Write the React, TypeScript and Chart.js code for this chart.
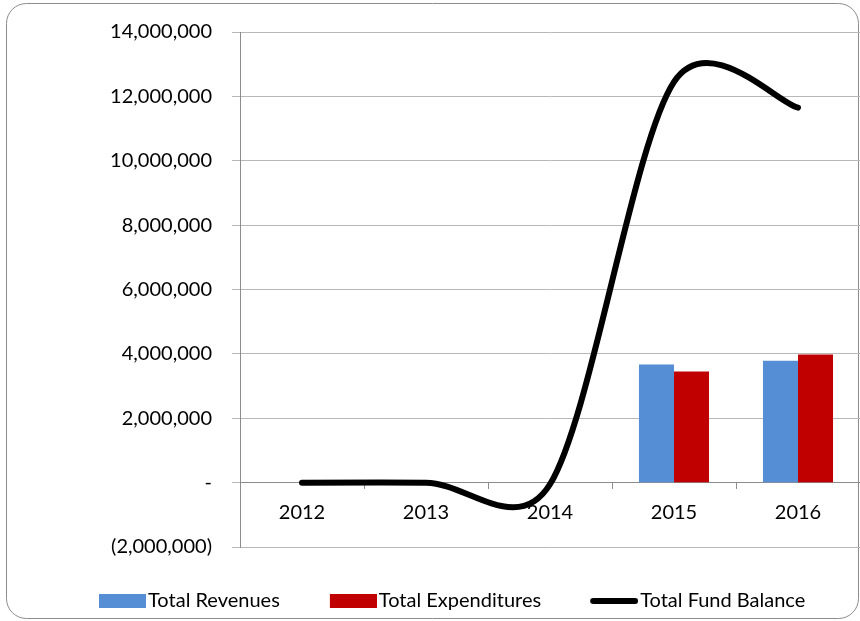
import React, { useEffect, useRef } from 'react';
import { Chart, registerables } from 'chart.js';

Chart.register(...registerables);

const years = ['2012', '2013', '2014', '2015', '2016'];
const totalRevenues = [null, null, null, 3670000, 3790000];
const totalExpenditures = [null, null, null, 3450000, 3980000];
const totalFundBalance = [0, 0, -50000, 12450000, 11650000];
const seriesLabels = ['Total Revenues', 'Total Expenditures', 'Total Fund Balance'];
const seriesColors = ['#558ED5', '#C00000', '#000000'];
const yMin = -2000000;
const yMax = 14000000;
const yStep = 2000000;

const FONT = 'Lato';
const FONT_SIZE = 20;
const LEG_PAD = 44;
const LEG_B = 45; // legend box slot width
const LEG_SWATCH = 47;

function fmt(v: number): string {
  if (v === 0) return '-';
  const s = String(Math.abs(v)).replace(/\B(?=(\d{3})+(?!\d))/g, ',');
  return v < 0 ? `(${s})` : s;
}

// Excel-like smoothing of the line: Catmull-Rom (1/6) with arm length capped at half the segment
const excelSmoothPlugin = {
  id: 'excelSmooth',
  beforeDatasetDraw(chart: any, args: any) {
    const meta = args.meta;
    if (meta.type !== 'line') return;
    meta.dataset.updateControlPoints(chart.chartArea, 'x');
    const pts = meta.data;
    const f = 1 / 6;
    for (let i = 0; i < pts.length; i++) {
      const p = pts[i];
      const prev = pts[i - 1] || p;
      const next = pts[i + 1] || p;
      const dx = next.x - prev.x;
      const dy = next.y - prev.y;
      const d02 = Math.hypot(dx, dy);
      const d01 = Math.hypot(p.x - prev.x, p.y - prev.y);
      const d12 = Math.hypot(next.x - p.x, next.y - p.y);
      let f1 = f;
      let f2 = f;
      if (d02 > 0) {
        if (f * d02 > d01 / 2) f1 = d01 / (2 * d02);
        if (f * d02 > d12 / 2) f2 = d12 / (2 * d02);
      }
      p.cp1x = p.x - f1 * dx;
      p.cp1y = p.y - f1 * dy;
      p.cp2x = p.x + f2 * dx;
      p.cp2y = p.y + f2 * dy;
    }
  },
};

const framePlugin = {
  id: 'frame',
  beforeDraw(chart: any) {
    const ctx = chart.ctx;
    ctx.save();
    ctx.fillStyle = '#ffffff';
    ctx.fillRect(0, 0, chart.width, chart.height);
    ctx.beginPath();
    ctx.roundRect(6.5, 3.5, 852, 615, 20);
    ctx.strokeStyle = '#8c8c8c';
    ctx.lineWidth = 1;
    ctx.stroke();
    ctx.restore();
  },
};

function swatch(i: number): HTMLCanvasElement {
  const W = LEG_B + 16;
  const c = document.createElement('canvas');
  const g = c.getContext('2d') as CanvasRenderingContext2D;
  if (i < 2) {
    c.width = W;
    c.height = 14;
    g.fillStyle = seriesColors[i];
    g.fillRect(W - LEG_SWATCH, 0, LEG_SWATCH, 14);
  } else {
    c.width = W;
    c.height = 8;
    g.strokeStyle = seriesColors[i];
    g.lineWidth = 6;
    g.lineCap = 'round';
    g.beginPath();
    g.moveTo(W - 48 + 3, 4);
    g.lineTo(W - 3, 4);
    g.stroke();
  }
  return c;
}

export default function App() {
  const ref = useRef<HTMLCanvasElement | null>(null);

  useEffect(() => {
    if (!ref.current) return;
    Chart.defaults.font.family = FONT;

    const mc = document.createElement('canvas').getContext('2d') as CanvasRenderingContext2D;
    mc.font = `${FONT_SIZE}px ${FONT}`;
    const S = seriesLabels.reduce(
      (a, t) => a + LEG_B + FONT_SIZE / 2 + mc.measureText(t).width + LEG_PAD,
      0
    );
    const firstItemX = 148 - LEG_B - FONT_SIZE / 2;
    const padLeft = Math.max(0, 2 * firstItemX - LEG_PAD - 860 + S);
    const swatches = [0, 1, 2].map(swatch);

    const chart = new Chart(ref.current, {
      type: 'bar',
      data: {
        labels: years,
        datasets: [
          {
            label: seriesLabels[0],
            data: totalRevenues,
            backgroundColor: seriesColors[0],
            borderWidth: 0,
            barPercentage: 1,
            categoryPercentage: 0.565,
          },
          {
            label: seriesLabels[1],
            data: totalExpenditures,
            backgroundColor: seriesColors[1],
            borderWidth: 0,
            barPercentage: 1,
            categoryPercentage: 0.565,
          },
          {
            type: 'line',
            label: seriesLabels[2],
            data: totalFundBalance,
            borderColor: seriesColors[2],
            backgroundColor: seriesColors[2],
            borderWidth: 6,
            borderCapStyle: 'round',
            borderJoinStyle: 'round',
            tension: 0.4,
            capBezierPoints: false,
            pointRadius: 0,
            pointHoverRadius: 0,
            fill: false,
          } as any,
        ],
      },
      options: {
        animation: false,
        responsive: true,
        maintainAspectRatio: false,
        layout: { padding: { left: padLeft, right: 0, top: 30, bottom: 0 } },
        plugins: {
          tooltip: { enabled: false },
          title: { display: false },
          legend: {
            display: true,
            position: 'bottom',
            labels: {
              usePointStyle: true,
              pointStyleWidth: LEG_B,
              boxWidth: LEG_B,
              boxHeight: 14,
              padding: LEG_PAD,
              color: '#000',
              font: { family: FONT, size: FONT_SIZE },
              generateLabels: (c: any) =>
                c.data.datasets.map((ds: any, i: number) => ({
                  text: ds.label,
                  datasetIndex: i,
                  hidden: false,
                  fillStyle: seriesColors[i],
                  strokeStyle: seriesColors[i],
                  lineWidth: 0,
                  pointStyle: swatches[i],
                  fontColor: '#000',
                })),
            },
          },
        },
        scales: {
          x: {
            type: 'category',
            position: { y: 0 } as any,
            offset: true,
            grid: {
              display: true,
              drawOnChartArea: false,
              drawTicks: true,
              tickLength: 6,
              color: '#8c8c8c',
              offset: true,
            },
            border: { display: true, color: '#8c8c8c' },
            ticks: {
              color: '#000',
              font: { family: FONT, size: FONT_SIZE },
              padding: 12,
              maxRotation: 0,
              autoSkip: false,
            },
          },
          y: {
            type: 'linear',
            min: yMin,
            max: yMax,
            grid: { color: '#b8b8b8', tickLength: 8, drawTicks: true },
            border: { display: true, color: '#8c8c8c' },
            ticks: {
              stepSize: yStep,
              color: '#000',
              padding: 20,
              font: { family: FONT, size: FONT_SIZE },
              callback: (v: any) => fmt(Number(v)),
            },
            afterFit: (s: any) => {
              s.width = 240 - padLeft;
            },
          },
        },
      },
      plugins: [framePlugin, excelSmoothPlugin],
    });
    return () => chart.destroy();
  }, []);

  return (
    <div style={{ position: 'absolute', left: 0, top: 0, width: 860, height: 621 }}>
      <canvas ref={ref} />
    </div>
  );
}
